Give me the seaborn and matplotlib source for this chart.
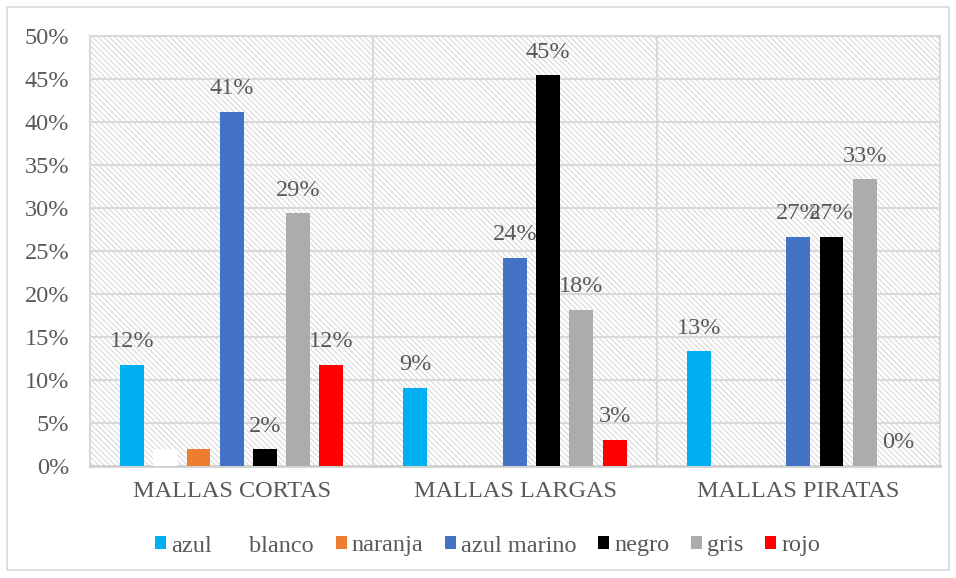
import matplotlib
matplotlib.use("Agg")
import matplotlib.pyplot as plt
from matplotlib.patches import Rectangle
import pandas as pd
import seaborn as sns

# Share of each colour within each type of leggings
categories = ["MALLAS CORTAS", "MALLAS LARGAS", "MALLAS PIRATAS"]
colours = ["azul", "blanco", "naranja", "azul marino", "negro", "gris", "rojo"]
azul = [6 / 51, 3 / 33, 2 / 15]
blanco = [1 / 51, 0.0, 0.0]
naranja = [1 / 51, 0.0, 0.0]
azul_marino = [21 / 51, 8 / 33, 4 / 15]
negro = [1 / 51, 15 / 33, 4 / 15]
gris = [15 / 51, 6 / 33, 5 / 15]
rojo = [6 / 51, 1 / 33, 0.0]
yticks = [0.0, 0.05, 0.10, 0.15, 0.20, 0.25, 0.30, 0.35, 0.40, 0.45, 0.50]
ytick_labels = ["0%", "5%", "10%", "15%", "20%", "25%", "30%", "35%", "40%", "45%", "50%"]
# Series whose bars carry a value label
labelled = ["azul", "azul marino", "negro", "gris", "rojo"]

palette = {
    "azul": "#00B0F0",
    "blanco": "#FFFFFF",
    "naranja": "#ED7D31",
    "azul marino": "#4472C4",
    "negro": "#000000",
    "gris": "#AEABAB",
    "rojo": "#FF0000",
}

series = [azul, blanco, naranja, azul_marino, negro, gris, rojo]
rows = []
for name, vals in zip(colours, series):
    for cat, v in zip(categories, vals):
        rows.append({"categoria": cat, "color": name, "valor": v})
df = pd.DataFrame(rows)

sns.set_theme(style="white")
plt.rcParams["font.family"] = ["Liberation Serif", "DejaVu Serif"]
text_color = "#595959"
grid_color = "#D9D9D9"
fs = 17.5

fig = plt.figure(figsize=(9.56, 5.78), dpi=100)
ax = fig.add_axes([90 / 956, 1 - 466 / 578, 850 / 956, 430 / 578])

# Hatched plot-area background
plt.rcParams["hatch.color"] = grid_color
plt.rcParams["hatch.linewidth"] = 0.8
bg = Rectangle((0, 0), 1, 1, transform=ax.transAxes, facecolor="white",
               edgecolor=grid_color, hatch="\\\\\\\\\\\\", linewidth=0, zorder=0)
ax.add_patch(bg)

sns.barplot(data=df, x="categoria", y="valor", hue="color", order=categories,
            hue_order=colours, palette=palette, width=0.82, gap=0.28,
            saturation=1, linewidth=0, ax=ax, legend=True, zorder=3)

for name, cont in zip(colours, ax.containers):
    if name in labelled:
        ax.bar_label(cont, labels=[f"{round(b.get_height() * 100):.0f}%" for b in cont],
                     padding=9, fontsize=fs, color=text_color)

ax.set_ylim(0, 0.5)
ax.set_xlim(-0.5, 2.5)
ax.set_yticks(yticks)
ax.set_yticklabels(ytick_labels)
ax.set_xlabel("")
ax.set_ylabel("")
ax.tick_params(axis="y", length=0, pad=15, labelsize=fs, labelcolor=text_color)
ax.tick_params(axis="x", length=0, pad=11, labelsize=fs, labelcolor=text_color)

for y in yticks[1:]:
    ax.axhline(y, color=grid_color, linewidth=1.5, zorder=1)
for x in [0.5, 1.5]:
    ax.axvline(x, color=grid_color, linewidth=1.5, zorder=1)

for side in ["left", "right", "top"]:
    ax.spines[side].set_color(grid_color)
    ax.spines[side].set_linewidth(1.5)
ax.spines["bottom"].set_color("#D0D0D0")
ax.spines["bottom"].set_linewidth(2)

handles, labels = ax.get_legend_handles_labels()
ax.legend_.remove()
fig.legend(handles, labels, loc="center", bbox_to_anchor=(0.51, 1 - 546 / 578),
           ncol=7, frameon=False, fontsize=fs, handlelength=0.45, handleheight=0.45,
           handletextpad=0.2, columnspacing=0.9, labelcolor=text_color)

# Chart border
fig.patches.append(Rectangle((7 / 956, 8 / 578), 942 / 956, 563 / 578,
                             transform=fig.transFigure, fill=False,
                             edgecolor=grid_color, linewidth=1.2))

fig.savefig("out.png", dpi=100)
